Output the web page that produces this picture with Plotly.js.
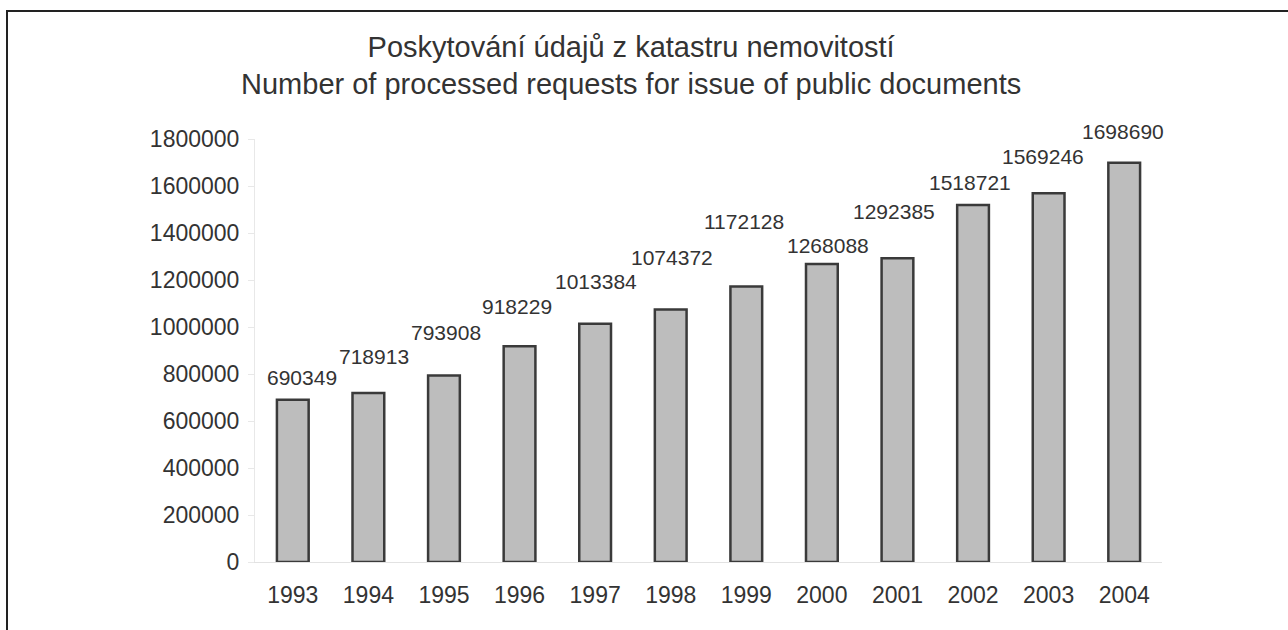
<!DOCTYPE html>
<html>
<head>
<meta charset="utf-8">
<script src="https://cdn.plot.ly/plotly-3.0.1.min.js"></script>
<style>
  html, body { margin: 0; padding: 0; background: #ffffff; }
  #wrap { position: relative; width: 1288px; height: 630px; overflow: hidden; }
  #chart { position: absolute; left: 0; top: 0; width: 1288px; height: 630px; }
  #frame { position: absolute; left: 6px; top: 10px; width: 1290px; height: 640px;
           border-top: 2px solid #222; border-left: 2px solid #222; pointer-events: none; }
</style>
</head>
<body>
<div id="wrap">
  <div id="chart"></div>
  <div id="frame"></div>
</div>
<script>
// ---- data ----
const years = ['1993','1994','1995','1996','1997','1998','1999','2000','2001','2002','2003','2004'];
const requests = [690349, 718913, 793908, 918229, 1013384, 1074372, 1172128, 1268088, 1292385, 1518721, 1569246, 1698690];
const yTickValues = [0, 200000, 400000, 600000, 800000, 1000000, 1200000, 1400000, 1600000, 1800000];
const titleLines = ['Poskytování údajů z katastru nemovitostí', 'Number of processed requests for issue of public documents'];

// ---- label styling: pixel nudges of each value label relative to its bar top ----
const labelLiftPx  = [22, 37, 43, 40, 42, 52, 65, 19, 47, 23, 37, 31];
const labelNudgePx = [9, 6, 2, -3, 1, 1, -2, 6, -3, -3, -6, -1];

const FONT = 'Liberation Sans, Arial, sans-serif';

const trace = {
  type: 'bar',
  x: years,
  y: requests,
  marker: { color: '#bdbdbd', line: { color: '#3a3a3a', width: 2.5 } },
  hoverinfo: 'x+y'
};

// labels anchored on each bar's category index and value
const annotations = years.map((yr, i) => ({
  x: i,
  y: requests[i],
  xref: 'x',
  yref: 'y',
  text: String(requests[i]),
  showarrow: false,
  xanchor: 'center',
  yanchor: 'middle',
  xshift: labelNudgePx[i],
  yshift: labelLiftPx[i],
  font: { family: FONT, size: 21, color: '#333333' }
}));

const layout = {
  width: 1288,
  height: 630,
  margin: { l: 255, r: 126, t: 139, b: 68, pad: 0 },
  paper_bgcolor: '#ffffff',
  plot_bgcolor: '#ffffff',
  showlegend: false,
  bargap: 0.58,
  title: {
    text: titleLines.join('<br>'),
    x: 0.49,
    xanchor: 'center',
    y: 0.91,
    yanchor: 'top',
    font: { family: FONT, size: 29, color: '#333333' }
  },
  xaxis: {
    type: 'category',
    range: [-0.5, years.length - 0.5],
    showgrid: false,
    showline: true,
    linecolor: '#e2e2e2',
    linewidth: 1,
    ticks: '',
    tickfont: { family: FONT, size: 23, color: '#333333' },
    ticklabelstandoff: 12
  },
  yaxis: {
    range: [0, 1800000],
    tickvals: yTickValues,
    ticktext: yTickValues.map(v => String(v)),
    showgrid: false,
    zeroline: false,
    showline: true,
    linecolor: '#e8e8e8',
    linewidth: 1,
    ticks: 'outside',
    ticklen: 6,
    tickcolor: '#e8e8e8',
    tickfont: { family: FONT, size: 23, color: '#333333' },
    ticklabelstandoff: 4
  },
  annotations: annotations
};

Plotly.newPlot('chart', [trace], layout, { displayModeBar: false, staticPlot: true });
</script>
</body>
</html>
